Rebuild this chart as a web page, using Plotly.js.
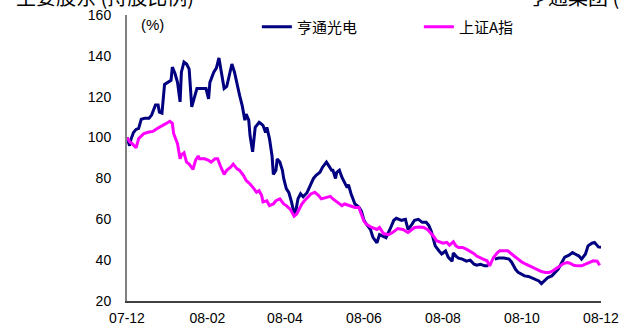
<!DOCTYPE html>
<html>
<head>
<meta charset="utf-8">
<script src="https://cdn.plot.ly/plotly-3.0.1.min.js"></script>
<style>
html,body{margin:0;padding:0;background:#fff;overflow:hidden;}
#chart{width:620px;height:331px;}
</style>
</head>
<body>
<div id="chart"></div>
<script>
const seriesNames = ["亨通光电", "上证A指"];

const hengtongDates = ["2007-12-01","2007-12-03","2007-12-04","2007-12-06","2007-12-08","2007-12-10","2007-12-12","2007-12-15","2007-12-18","2007-12-20","2007-12-23","2007-12-25","2007-12-26","2007-12-28","2007-12-30","2008-01-02","2008-01-04","2008-01-05","2008-01-07","2008-01-09","2008-01-11","2008-01-12","2008-01-14","2008-01-16","2008-01-18","2008-01-20","2008-01-21","2008-01-24","2008-01-26","2008-01-29","2008-01-31","2008-02-02","2008-02-03","2008-02-06","2008-02-08","2008-02-10","2008-02-12","2008-02-14","2008-02-16","2008-02-19","2008-02-20","2008-02-22","2008-02-24","2008-02-26","2008-02-28","2008-02-29","2008-03-01","2008-03-02","2008-03-04","2008-03-05","2008-03-07","2008-03-09","2008-03-10","2008-03-12","2008-03-13","2008-03-15","2008-03-17","2008-03-18","2008-03-20","2008-03-22","2008-03-23","2008-03-25","2008-03-26","2008-03-28","2008-03-30","2008-03-31","2008-04-02","2008-04-04","2008-04-06","2008-04-08","2008-04-09","2008-04-11","2008-04-13","2008-04-15","2008-04-18","2008-04-20","2008-04-23","2008-04-25","2008-04-28","2008-04-30","2008-05-03","2008-05-05","2008-05-07","2008-05-08","2008-05-10","2008-05-11","2008-05-13","2008-05-15","2008-05-17","2008-05-19","2008-05-20","2008-05-22","2008-05-25","2008-05-28","2008-05-30","2008-06-01","2008-06-03","2008-06-06","2008-06-08","2008-06-11","2008-06-13","2008-06-16","2008-06-18","2008-06-21","2008-06-24","2008-06-26","2008-06-30","2008-07-03","2008-07-05","2008-07-08","2008-07-10","2008-07-13","2008-07-16","2008-07-19","2008-07-21","2008-07-23","2008-07-26","2008-07-29","2008-07-31","2008-08-03","2008-08-05","2008-08-08","2008-08-09","2008-08-11","2008-08-13","2008-08-16","2008-08-19","2008-08-22","2008-08-25","2008-08-27","2008-08-30","2008-09-02","2008-09-05","2008-09-07","2008-09-10","2008-09-13","2008-09-17","2008-09-21","2008-09-23","2008-09-26","2008-09-28","2008-10-01","2008-10-03","2008-10-06","2008-10-08","2008-10-11","2008-10-14","2008-10-16","2008-10-19","2008-10-21","2008-10-24","2008-10-27","2008-10-29","2008-10-31","2008-11-03","2008-11-06","2008-11-09","2008-11-11","2008-11-14","2008-11-16","2008-11-19","2008-11-21","2008-11-24","2008-11-26","2008-11-29","2008-12-01"];
const hengtongValues = [100,96,99,102.5,104,104.5,109,109.5,109.5,111,116,116,112.5,112,126,127,128,134.5,131.5,127,117.5,132,137,136,133.5,115,117.5,124,124,124,124,119,127,132,134,139,132,124,125,134.5,136,132,125.5,120.5,115.5,111.5,108.5,111.5,108.5,101,93,105,106,107.5,107,106,102.5,105,99.5,91,82,84,89.5,88,84,80,75,73,68.5,63,63,70,72.5,71,73,75.5,80,81.5,83,85.5,88,86,84,84,80,83,84,80.5,78,75.5,77,72.5,67.5,66,64,59.5,57.5,55,51,48.5,52.5,51.5,51,55,59.5,60.5,59.5,60,55,57.5,59.5,60,58.5,58.5,57,54,47,44.5,43,44.5,41.5,39.5,43.5,42,41,40.5,39.5,40,38,37.5,38,37.2,37.2,null,40.5,41,41,40.5,39,35.5,34,33,32.3,32,31.5,30.7,29.8,28.5,30.5,31.5,32.3,34.5,35.6,38,41.5,42.3,43.7,43,42,40.5,43,47,48.3,48.7,46.5,46.3];

const indexDates = ["2007-12-01","2007-12-03","2007-12-05","2007-12-08","2007-12-10","2007-12-14","2007-12-18","2007-12-21","2007-12-24","2007-12-28","2007-12-31","2008-01-03","2008-01-05","2008-01-06","2008-01-07","2008-01-09","2008-01-11","2008-01-12","2008-01-14","2008-01-16","2008-01-18","2008-01-20","2008-01-21","2008-01-23","2008-01-25","2008-01-26","2008-01-30","2008-02-02","2008-02-04","2008-02-07","2008-02-09","2008-02-11","2008-02-14","2008-02-16","2008-02-19","2008-02-21","2008-02-24","2008-02-26","2008-02-29","2008-03-02","2008-03-05","2008-03-08","2008-03-10","2008-03-12","2008-03-14","2008-03-15","2008-03-18","2008-03-20","2008-03-23","2008-03-25","2008-03-28","2008-03-31","2008-04-02","2008-04-05","2008-04-08","2008-04-10","2008-04-12","2008-04-14","2008-04-16","2008-04-19","2008-04-21","2008-04-24","2008-04-27","2008-04-29","2008-05-03","2008-05-06","2008-05-08","2008-05-12","2008-05-15","2008-05-17","2008-05-21","2008-05-25","2008-05-28","2008-05-30","2008-06-01","2008-06-03","2008-06-07","2008-06-11","2008-06-13","2008-06-16","2008-06-20","2008-06-23","2008-06-27","2008-07-01","2008-07-05","2008-07-08","2008-07-10","2008-07-14","2008-07-17","2008-07-20","2008-07-22","2008-07-25","2008-07-27","2008-07-30","2008-08-01","2008-08-04","2008-08-06","2008-08-09","2008-08-11","2008-08-13","2008-08-16","2008-08-19","2008-08-22","2008-08-25","2008-08-27","2008-08-30","2008-09-01","2008-09-04","2008-09-06","2008-09-09","2008-09-12","2008-09-14","2008-09-17","2008-09-20","2008-09-23","2008-09-26","2008-09-28","2008-10-01","2008-10-04","2008-10-08","2008-10-12","2008-10-16","2008-10-19","2008-10-22","2008-10-24","2008-10-27","2008-10-30","2008-11-02","2008-11-05","2008-11-07","2008-11-10","2008-11-13","2008-11-16","2008-11-19","2008-11-22","2008-11-25","2008-11-28","2008-11-30"];
const indexValues = [100,98,97,95,99.5,102,102.7,103,104.3,105.6,106.8,108,107,102,100,97,89.6,91.5,92.5,88,87,85.5,84.5,89,91,89.6,89.6,88.8,88,89.6,89.6,86.3,82,84,85.5,87,84.7,83.9,81.4,79,77.3,75,73.2,74,71.6,68.5,69.1,66.7,67.5,69.1,70,67.5,66.7,65,61.5,62.6,65.5,67.5,69.1,70.8,72.4,73.2,71.6,70,70.8,71.2,70,68.3,66.7,67.5,66.7,65.8,65.8,62,59,57.5,56,55,56,53,52.5,53.5,55.5,55,53.5,55,56,56.2,56,55,53.6,51.5,49.5,48.7,48.3,48.7,47.3,49,47,46.2,46.2,45.4,44.5,43.2,42,41.3,40.5,39.7,37.2,41.3,43.7,44.6,44.6,44.6,43,41.5,40.5,39,38,36.8,35.6,34.4,34,34,34.5,35.6,37,38.3,38.8,38.5,37.5,37.2,37.2,38,38.8,39.7,39.5,37.5];

const xTickVals = ["2007-12-01","2008-02-01","2008-04-01","2008-06-01","2008-08-01","2008-10-01","2008-12-01"];
const xTickText = ["07-12","08-02","08-04","08-06","08-08","08-10","08-12"];
const yTickVals = [20,40,60,80,100,120,140,160];
const yUnit = "(%)";
const pageTextLeft = "主要股东 (持股比例)";
const pageTextRight = "亨通集团 (3";

const traces = [
  {x: hengtongDates, y: hengtongValues, name: seriesNames[0], type: "scatter", mode: "lines",
   connectgaps: false, line: {color: "#000080", width: 3}},
  {x: indexDates, y: indexValues, name: seriesNames[1], type: "scatter", mode: "lines",
   line: {color: "#FF00FF", width: 3}}
];

const layout = {
  width: 620, height: 331,
  margin: {l: 127, r: 19, t: 15, b: 30, pad: 0, autoexpand: false},
  paper_bgcolor: "#fff", plot_bgcolor: "#fff",
  font: {family: "Liberation Sans, Arial, sans-serif", size: 14, color: "#000"},
  showlegend: true,
  legend: {orientation: "h", x: 0.274, y: 0.958, xanchor: "left", yanchor: "middle",
    font: {family: "Noto Sans CJK SC", size: 15, color: "#000"},
    bgcolor: "rgba(0,0,0,0)", entrywidth: 117, entrywidthmode: "pixels", tracegroupgap: 0},
  xaxis: {type: "date", range: ["2007-12-01", "2008-12-01"], tickmode: "array",
    tickvals: xTickVals, ticktext: xTickText, showgrid: false, zeroline: false,
    showline: true, linecolor: "#404040", linewidth: 1.5, ticks: "outside", ticklen: 4,
    tickcolor: "rgba(0,0,0,0)", tickfont: {size: 14}},
  yaxis: {range: [20, 160], tickmode: "array", tickvals: yTickVals, showgrid: false,
    zeroline: false, showline: true, linecolor: "#808080", linewidth: 2,
    ticks: "outside", ticklen: 11, tickcolor: "rgba(0,0,0,0)", tickfont: {size: 14}},
  annotations: [
    {text: yUnit, xref: "paper", yref: "paper", x: 0.025, y: 0.968, xanchor: "left",
     yanchor: "middle", showarrow: false, font: {size: 15}},
    {text: pageTextLeft, xref: "paper", yref: "paper", x: -0.238, y: 1.008, xanchor: "left",
     yanchor: "bottom", showarrow: false, font: {family: "Noto Sans CJK SC", size: 20, color: "#000"}},
    {text: pageTextRight, xref: "paper", yref: "paper", x: 0.842, y: 1.008, xanchor: "left",
     yanchor: "bottom", showarrow: false, font: {family: "Noto Sans CJK SC", size: 20, color: "#000"}}
  ]
};

Plotly.newPlot("chart", traces, layout, {displayModeBar: false, staticPlot: true});
</script>
</body>
</html>
